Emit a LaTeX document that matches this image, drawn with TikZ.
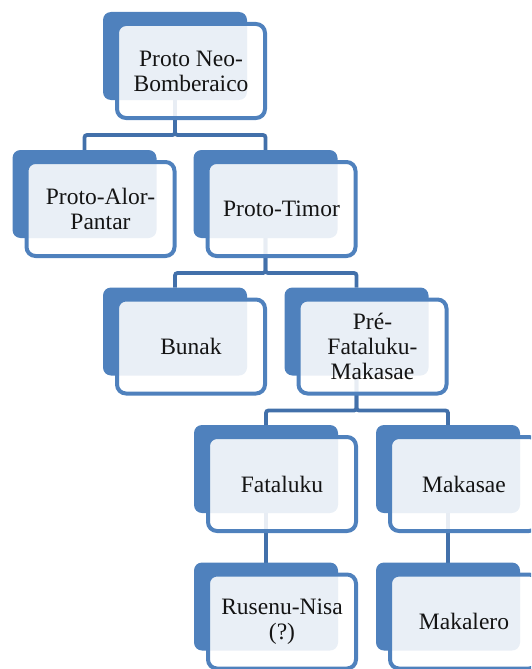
\documentclass[tikz,border=0pt]{standalone}
\usepackage{fontspec}
\setmainfont{Liberation Serif}
\usetikzlibrary{calc}
\definecolor{accent}{RGB}{79,129,189}
\definecolor{linkblue}{RGB}{66,112,170}
\definecolor{inktext}{RGB}{20,20,20}
\tikzset{
  backbox/.style={fill=accent, draw=none, rounded corners=8pt,
    minimum width=144pt, minimum height=88pt, inner sep=0pt, outer sep=0pt},
  frontbox/.style={draw=accent, line width=4pt, fill=white, fill opacity=0.88,
    text opacity=1, text=inktext, rounded corners=9pt,
    minimum width=148pt, minimum height=94pt, inner sep=0pt, align=center,
    font=\fontsize{23.5}{25}\selectfont},
  link/.style={draw=linkblue, line width=3.8pt, rounded corners=2.5pt},
}
\newcommand{\famnode}[4]{%
  \node[backbox] (#1b) at (#2) {};
  \node[frontbox] (#1) at ($(#1b.center)+(16,15)$) {#4};
}
\begin{document}
\begin{tikzpicture}[x=1pt,y=-1pt]
  \useasboundingbox (0,0) rectangle (531,669);
  \clip (0,0) rectangle (531,669);

  % anchors for the back boxes (node centres)
  \coordinate (c-pn) at (175,56);
  \coordinate (c-pap) at (84.5,194);
  \coordinate (c-pt) at (265.5,194);
  \coordinate (c-bu) at (175,331.5);
  \coordinate (c-pfm) at (356.5,331.5);
  \coordinate (c-fa) at (266,469);
  \coordinate (c-ma) at (448,469);
  \coordinate (c-rn) at (266,606.5);
  \coordinate (c-mk) at (448,606.5);

  % back boxes first, so connectors can be laid out between them
  \foreach \n in {pn,pap,pt,bu,pfm,fa,ma,rn,mk}
    \node[backbox,fill=none] (\n b) at (c-\n) {};

  % connectors
  \draw[link] (pnb.south) -- ++(0,35) -| (papb.north);
  \draw[link] (pnb.south) -- ++(0,35) -| (ptb.north);
  \draw[link] (ptb.south) -- ++(0,35) -| (bub.north);
  \draw[link] (ptb.south) -- ++(0,35) -| (pfmb.north);
  \draw[link] (pfmb.south) -- ++(0,35) -| (fab.north);
  \draw[link] (pfmb.south) -- ++(0,35) -| (mab.north);
  \draw[link] (fab.south) -- (rnb.north);
  \draw[link] (mab.south) -- (mkb.north);

  % boxes
  \famnode{pn}{c-pn}{}{Proto Neo-\\Bomberaico}
  \famnode{pap}{c-pap}{}{Proto-Alor-\\Pantar}
  \famnode{pt}{c-pt}{}{Proto-Timor}
  \famnode{bu}{c-bu}{}{Bunak}
  \famnode{pfm}{c-pfm}{}{Pré-\\Fataluku-\\Makasae}
  \famnode{fa}{c-fa}{}{Fataluku}
  \famnode{ma}{c-ma}{}{Makasae}
  \famnode{rn}{c-rn}{}{Rusenu-Nisa\\(?)}
  \famnode{mk}{c-mk}{}{Makalero}
\end{tikzpicture}
\end{document}
